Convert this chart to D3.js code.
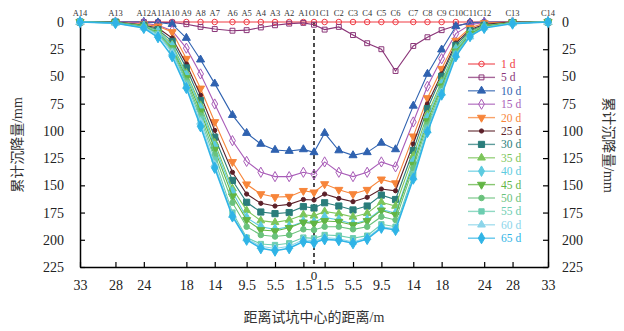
<!DOCTYPE html>
<html><head><meta charset="utf-8">
<script src="https://cdn.jsdelivr.net/npm/d3@7"></script>
<style>
body{margin:0;background:#fff;}
svg{display:block;}
text{font-family:"Liberation Serif","Times New Roman",serif;}
.cjk{font-family:"Liberation Serif","Noto Sans CJK SC",serif;}
</style></head><body>
<svg id="chart" width="624" height="331"></svg>
<script>
const pointNames = ["A14","A13","A12","A11","A10","A9","A8","A7","A6","A5","A4","A3","A2","A1","O1","C1","C2","C3","C4","C5","C6","C7","C8","C9","C10","C11","C12","C13","C14"];
const pointX = [-33,-28,-24,-22,-20,-18,-16,-14,-11.5,-9.5,-7.5,-5.5,-3.5,-1.5,0,1.5,3.5,5.5,7.5,9.5,11.5,14,16,18,20,22,24,28,33];
const xTicks = [-33,-28,-24,-18,-14,-9.5,-5.5,-1.5,1.5,5.5,9.5,14,18,24,28,33];
const yTicks = [0,25,50,75,100,125,150,175,200,225];
const seriesNames = ["1 d","5 d","10 d","15 d","20 d","25 d","30 d","35 d","40 d","45 d","50 d","55 d","60 d","65 d"];

const d1  = [0,0,0,0,0,0,0,0,0,0,0,0,0,0,0,0,0,0,0,0,0,0,0,0,0,0,0,0,0];
const d5  = [0,0,0,0.3,0.5,2,4.5,6.5,8,7.5,5,3,1.5,0.8,2.5,7,4.5,12,19.5,25,45,22,14,7.5,3.5,1,0.5,0,0];
const d10 = [0,0,0,0.5,2,14.7,34.6,56.6,85.5,102,112,117.5,118.5,117,119.7,102,118,122.5,119.7,111,117,77,47.7,25.4,4,0.5,0,0,0];
const d15 = [0,0,1,3,8,24,47.7,75.3,109,128,138,142,142,138,140,128.5,138,142,138,128.5,133,91.8,59,33.7,10.7,2.5,0.5,0,0];
const d20 = [0,0,2,4,9.2,33.7,61,91.8,128.5,149,158,160.7,160.4,155,156.4,148.8,154,158,154,144.5,148,105,69.8,42.9,17.1,5.5,1,0,0];
const d25 = [0,0,3,5.5,14.7,38.6,67.3,99.5,138,158,166.5,169,167.5,163,163.5,158,162,165,161,153.4,155,112,75.3,47.7,19.3,7,2,0,0];
const d30 = [0,0,3,7,17.8,42.2,72.2,105.8,145.5,165.6,174.5,176,175,169.6,170.8,166,169,172.6,169,159,163,118,79.6,49.9,21.4,8,3,0.5,0];
const d35 = [0,0.5,3.5,8,20.8,46.8,76.5,111,153,173,182.4,184,181.8,177,178,174,176,179,175.7,165.6,169,123,85,54.5,23.9,9,3.5,0.5,0];
const d40 = [0,0.5,4,9,22.3,49,79,114,156,179.7,188,190.4,188,183.4,184,179.4,181.8,185.5,181.8,172,175.7,128,88,57,25.4,10,4,0.5,0];
const d45 = [0,0.5,4,10,23.9,51.4,82,117.2,160,181.8,191,192,189,184,185,182.7,183.4,186.4,182.7,173,177,131,91,59,27,11,4,0.5,0];
const d50 = [0,0.5,4.5,10.5,25.4,53.9,85.7,121.8,166,188,195.6,197,195.6,190.4,191,188,188,190.4,188,178.8,181.8,134,94.3,61,27.9,12,4.5,1,0];
const d55 = [0,1,5,11,27,56,88.8,126.4,175,198,203.9,204.8,203.2,198,198.7,195.6,196.2,198.6,196.2,185.8,188,140,97,63.7,29.4,13,5,1,0];
const d60 = [0,1,5,12,28.5,59,91.8,131,177.5,199,206,208,206,200,201,198,199,202,198,188,190,143,99.8,65.2,30.6,13.5,5,1,0];
const d65 = [0,1,5.5,14,31.5,60.6,95.8,134,178.6,200,207.8,210,207.8,201.7,202.6,199.6,200.4,203.2,199.3,189,191,143.9,101,66.7,31.5,13,5.5,1.5,0];
const seriesValues = [d1,d5,d10,d15,d20,d25,d30,d35,d40,d45,d50,d55,d60,d65];

const colors = ["#ef3b43","#8a3578","#2f62b0","#a95db8","#f7853a","#5b1f28","#2a7d7b","#7cc55a","#5ccbe0","#62b544","#6ac27c","#6ccdb0","#8bd5ea","#2fb4e6"];
// marker style: [symbol, size, filled, rotate]
const markers = [
  [d3.symbolCircle,24,false,0],
  [d3.symbolSquare,24,false,0],
  [d3.symbolTriangle,28,true,0],
  [d3.symbolDiamond,30,false,0],
  [d3.symbolTriangle,28,true,180],
  [d3.symbolCircle,14,true,0],
  [d3.symbolSquare,38,true,0],
  [d3.symbolTriangle,26,true,0],
  [d3.symbolDiamond,32,true,0],
  [d3.symbolTriangle,28,true,180],
  [d3.symbolCircle,24,true,0],
  [d3.symbolSquare,28,true,0],
  [d3.symbolTriangle,26,true,0],
  [d3.symbolDiamond,36,true,0]
];

const svg = d3.select("#chart");
const L = 80, R = 548, T = 22, B = 267;
const x = d3.scaleLinear().domain([-33,33]).range([L,R]);
const y = d3.scaleLinear().domain([0,225]).range([T,B]);

// axes
const fmt = v => String(Math.abs(v));
function styleAxis(g){
  g.select(".domain").attr("stroke","#000").attr("stroke-width",1.5);
  g.selectAll("text").attr("font-size",14).attr("font-family","Liberation Serif").attr("fill","#222");
  g.selectAll("line").attr("stroke","#000").attr("stroke-width",1.2);
}
svg.append("g").attr("transform",`translate(0,${B})`)
  .call(d3.axisBottom(x).tickValues(xTicks).tickFormat(fmt).tickSizeInner(-5).tickSizeOuter(0).tickPadding(13))
  .call(styleAxis);
svg.append("g").attr("transform",`translate(${L},0)`)
  .call(d3.axisLeft(y).tickValues(yTicks).tickSizeInner(-5).tickSizeOuter(0).tickPadding(16))
  .call(styleAxis);
svg.append("g").attr("transform",`translate(${R},0)`)
  .call(d3.axisRight(y).tickValues(yTicks).tickSizeInner(-5).tickSizeOuter(0).tickPadding(14))
  .call(styleAxis);

// center dashed line and 0 label
svg.append("line").attr("x1",x(0)).attr("x2",x(0)).attr("y1",T).attr("y2",B)
  .attr("stroke","#000").attr("stroke-width",1.4).attr("stroke-dasharray","4,3");
svg.append("text").attr("x",x(0)).attr("y",B+13).attr("text-anchor","middle")
  .attr("font-size",13).attr("fill","#222").text("0");

// top point labels
svg.append("g").selectAll("text").data(pointNames).join("text")
  .attr("x",(d,i)=>x(pointX[i])).attr("y",16).attr("text-anchor","middle")
  .attr("font-size",8.5).attr("fill","#333").text(d=>d);

// series
const line = d3.line().x((d,i)=>x(pointX[i])).y(d=>y(d));
const plot = svg.append("g");
seriesValues.forEach((vals,si)=>{
  const c = colors[si];
  const g = plot.append("g");
  g.append("path").attr("d",line(vals)).attr("fill","none").attr("stroke",c)
    .attr("stroke-width", si===13?1.6:1.1);
  const m = markers[si];
  const sym = d3.symbol().type(m[0]).size(m[1]);
  g.selectAll("path.m").data(vals).join("path").attr("class","m")
    .attr("d",sym)
    .attr("transform",(d,i)=>`translate(${x(pointX[i])},${y(d)}) rotate(${m[3]})`)
    .attr("fill",m[2]?c:"none").attr("stroke",c).attr("stroke-width",1);
});

// legend
const lg = svg.append("g");
seriesNames.forEach((name,si)=>{
  const yy = 64 + si*13.4;
  const c = colors[si];
  lg.append("line").attr("x1",468).attr("x2",495).attr("y1",yy).attr("y2",yy)
    .attr("stroke",c).attr("stroke-width",1.4).attr("opacity",0.75);
  const m = markers[si];
  lg.append("path").attr("d",d3.symbol().type(m[0]).size(m[1])())
    .attr("transform",`translate(481.5,${yy}) rotate(${m[3]})`)
    .attr("fill",m[2]?c:"none").attr("stroke",c).attr("stroke-width",1);
  lg.append("text").attr("x",501).attr("y",yy+4).attr("font-size",11.5)
    .attr("fill",c).text(name);
});

// axis titles
svg.append("text").attr("class","cjk").attr("x",314).attr("y",322).attr("text-anchor","middle")
  .attr("font-size",14).attr("fill","#333").text("距离试坑中心的距离/m");
svg.append("text").attr("class","cjk").attr("transform","translate(22,145) rotate(-90)")
  .attr("text-anchor","middle").attr("font-size",14).attr("fill","#333").text("累计沉降量/mm");
svg.append("text").attr("class","cjk").attr("transform","translate(604,145) rotate(90)")
  .attr("text-anchor","middle").attr("font-size",14).attr("fill","#333").text("累计沉降量/mm");
</script>
</body></html>
